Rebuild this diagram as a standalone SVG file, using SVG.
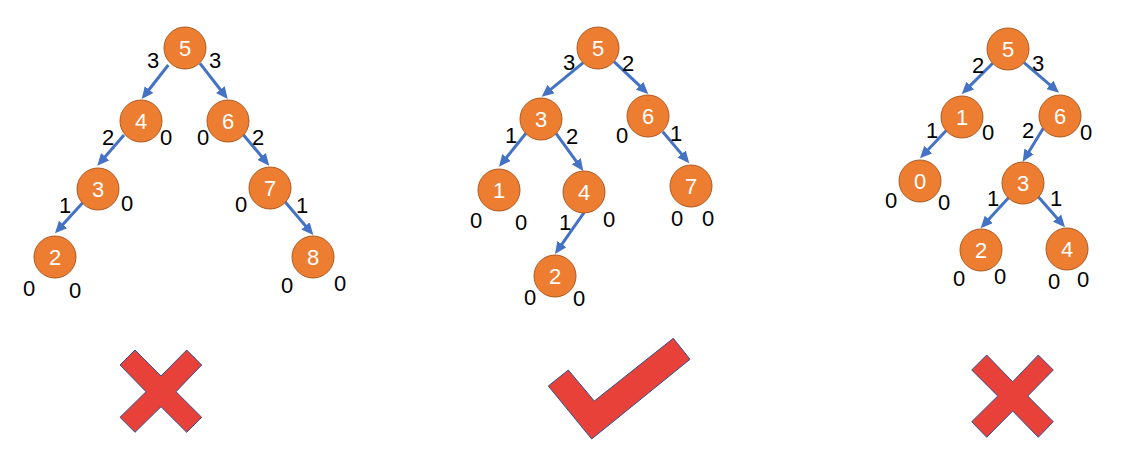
<svg xmlns="http://www.w3.org/2000/svg" width="1140" height="466" viewBox="0 0 1140 466">
<style>
.n circle{fill:#ED7D31;stroke:#AE5A21;stroke-width:1}
.n text{fill:#FFFFFF;font-family:"Liberation Sans",Arial,sans-serif;font-size:22px;text-anchor:middle}
.e line{stroke:#4472C4;stroke-width:3;marker-end:url(#ah)}
.l text{fill:#000000;font-family:"Liberation Sans",Arial,sans-serif;font-size:22px;text-anchor:middle}
.mark{fill:#E8413A;stroke:#2F528F;stroke-width:1;stroke-linejoin:miter}
</style>
<defs>
<marker id="ah" markerUnits="userSpaceOnUse" markerWidth="12" markerHeight="11" refX="5" refY="5.5" orient="auto" viewBox="0 0 12 11">
<path d="M0,0 L12,5.5 L0,11 z" fill="#4472C4"/>
</marker>
</defs>
<rect width="1140" height="466" fill="#FFFFFF"/>
<g id="connectors" class="e">
<line x1="168.3" y1="65" x2="146.0" y2="93.5"/>
<line x1="200" y1="63.3" x2="223.4" y2="93.5"/>
<line x1="124" y1="135" x2="101.9" y2="160.4"/>
<line x1="242.7" y1="134" x2="264.8" y2="160.3"/>
<line x1="82.7" y1="202.7" x2="59.7" y2="228.1"/>
<line x1="285" y1="201.7" x2="308.8" y2="229.7"/>
<line x1="583.3" y1="62.7" x2="547.1" y2="92.3"/>
<line x1="614" y1="61.7" x2="643.2" y2="89.2"/>
<line x1="526" y1="133.3" x2="503.4" y2="161.3"/>
<line x1="556" y1="133.3" x2="579.2" y2="165.3"/>
<line x1="662.7" y1="131.7" x2="684.8" y2="157.9"/>
<line x1="584" y1="212.7" x2="559.0" y2="248.3"/>
<line x1="992.7" y1="63.3" x2="966.7" y2="89.1"/>
<line x1="1024" y1="62.7" x2="1053.7" y2="88.1"/>
<line x1="946.7" y1="130" x2="924.8" y2="153.2"/>
<line x1="1043.3" y1="128.3" x2="1026.4" y2="155.7"/>
<line x1="1009" y1="197.3" x2="985.4" y2="223.1"/>
<line x1="1038.3" y1="196.7" x2="1060.4" y2="222.0"/>
</g>
<g id="tree-left">
<g id="L5" class="n"><circle cx="185" cy="48" r="21"/><text x="185" y="56">5</text></g>
<g id="L4" class="n"><circle cx="141" cy="121" r="21"/><text x="141" y="129">4</text></g>
<g id="L6" class="n"><circle cx="228" cy="121" r="21"/><text x="228" y="129">6</text></g>
<g id="L3" class="n"><circle cx="98" cy="189" r="21"/><text x="98" y="197">3</text></g>
<g id="L7" class="n"><circle cx="270" cy="188" r="21"/><text x="270" y="196">7</text></g>
<g id="L2" class="n"><circle cx="55" cy="257" r="21"/><text x="55" y="265">2</text></g>
<g id="L8" class="n"><circle cx="313" cy="257" r="21"/><text x="313" y="265">8</text></g>
</g>
<g id="tree-middle">
<g id="M5" class="n"><circle cx="598" cy="48" r="21"/><text x="598" y="56">5</text></g>
<g id="M3" class="n"><circle cx="541" cy="119" r="21"/><text x="541" y="127">3</text></g>
<g id="M6" class="n"><circle cx="648" cy="116" r="21"/><text x="648" y="124">6</text></g>
<g id="M1" class="n"><circle cx="499" cy="190" r="21"/><text x="499" y="198">1</text></g>
<g id="M4" class="n"><circle cx="584" cy="192" r="21"/><text x="584" y="200">4</text></g>
<g id="M7" class="n"><circle cx="691" cy="186" r="21"/><text x="691" y="194">7</text></g>
<g id="M2" class="n"><circle cx="555" cy="276" r="21"/><text x="555" y="284">2</text></g>
</g>
<g id="tree-right">
<g id="R5" class="n"><circle cx="1008" cy="49" r="21"/><text x="1008" y="57">5</text></g>
<g id="R1" class="n"><circle cx="962" cy="117" r="21"/><text x="962" y="125">1</text></g>
<g id="R6" class="n"><circle cx="1060" cy="116" r="21"/><text x="1060" y="124">6</text></g>
<g id="R0" class="n"><circle cx="920" cy="181" r="21"/><text x="920" y="189">0</text></g>
<g id="R3" class="n"><circle cx="1023" cy="183" r="21"/><text x="1023" y="191">3</text></g>
<g id="R2" class="n"><circle cx="981" cy="250" r="21"/><text x="981" y="258">2</text></g>
<g id="R4" class="n"><circle cx="1067" cy="249" r="21"/><text x="1067" y="257">4</text></g>
</g>
<g id="labels" class="l">
<text x="153" y="68">3</text><text x="215" y="68">3</text>
<text x="108" y="145">2</text><text x="166" y="145">0</text>
<text x="203" y="145">0</text><text x="258" y="145">2</text>
<text x="65" y="213">1</text><text x="127" y="211">0</text>
<text x="241" y="212">0</text><text x="302" y="213">1</text>
<text x="29" y="296">0</text><text x="75" y="298">0</text>
<text x="287" y="293">0</text><text x="340" y="291">0</text>

<text x="569" y="70">3</text><text x="628" y="71">2</text>
<text x="511" y="143">1</text><text x="572" y="144">2</text>
<text x="622" y="143">0</text><text x="676" y="141">1</text>
<text x="476" y="228">0</text><text x="521" y="230">0</text>
<text x="565" y="230">1</text><text x="609" y="227">0</text>
<text x="677" y="226">0</text><text x="708" y="226">0</text>
<text x="530" y="305">0</text><text x="579" y="306">0</text>

<text x="978" y="73">2</text><text x="1038" y="71">3</text>
<text x="932" y="138">1</text><text x="988" y="140">0</text>
<text x="1028" y="138">2</text><text x="1086" y="140">0</text>
<text x="891" y="208">0</text><text x="944" y="210">0</text>
<text x="993" y="206">1</text><text x="1056" y="206">1</text>
<text x="959" y="286">0</text><text x="1000" y="284">0</text>
<text x="1054" y="289">0</text><text x="1083" y="287">0</text>
</g>
<g id="marks">
<polygon id="cross-left" class="mark" points="120,365 135,350 161,376 186.7,350 201.7,365 176,391.7 201.7,417.3 186.7,432.3 161,406.7 135,432.3 120,417.3 146,391.7"/>
<polygon id="check-middle" class="mark" points="548.3,386 568.3,370 594.3,401 673.3,338.3 690,359.3 591.7,439"/>
<polygon id="cross-right" class="mark" points="971.7,370 986.7,355 1012.7,381.7 1038.3,355 1053.3,370 1027.7,396 1053.3,421.7 1038.3,437.3 1012.7,411 986.7,437.3 971.7,421.7 997.7,396"/>
</g>
</svg>
